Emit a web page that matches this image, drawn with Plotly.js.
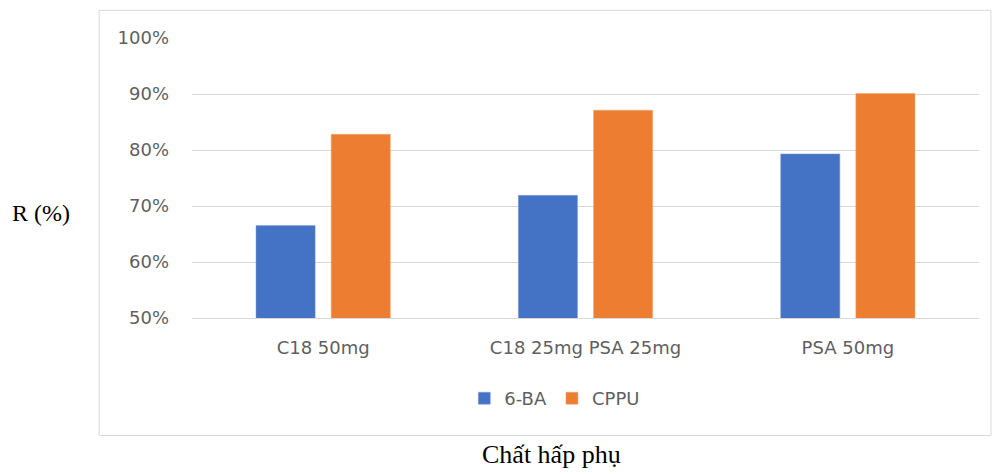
<!DOCTYPE html>
<html>
<head>
<meta charset="utf-8">
<script src="https://cdn.plot.ly/plotly-3.0.1.min.js"></script>
<style>html,body{margin:0;padding:0;background:#fff;}#chart{width:999px;height:474px;}</style>
</head>
<body>
<div id="chart"></div>
<script>
var categories = ["C18 50mg", "C18 25mg PSA 25mg", "PSA 50mg"];
var seriesNames = ["6-BA", "CPPU"];
var ba6 = [0.665, 0.719, 0.793];
var cppu = [0.828, 0.871, 0.901];
var yTickVals = [0.5, 0.6, 0.7, 0.8, 0.9, 1.0];
var yTickText = ["50%", "60%", "70%", "80%", "90%", "100%"];

var tickFont = {family: "DejaVu Sans", size: 18, color: "#5f5f5f"};

var traces = [
  {type: "bar", name: seriesNames[0], x: categories, y: ba6,
   marker: {color: "#4472c4", line: {color: "#7f9fd9", width: 0.5}}},
  {type: "bar", name: seriesNames[1], x: categories, y: cppu,
   marker: {color: "#ed7d31", line: {color: "#f3a774", width: 0.5}}}
];

var layout = {
  width: 999, height: 474,
  margin: {l: 192, r: 20, t: 38, b: 156},
  paper_bgcolor: "#ffffff", plot_bgcolor: "#ffffff",
  barmode: "group", bargap: 0.427, bargroupgap: 0.213,
  showlegend: true,
  legend: {orientation: "h", x: 0.346, xanchor: "left", y: -0.2876, yanchor: "middle",
           font: tickFont, bgcolor: "rgba(0,0,0,0)", itemclick: false},
  xaxis: {type: "category", tickfont: tickFont, ticks: "", showgrid: false,
          showline: true, linecolor: "#d9d9d9", linewidth: 1,
          ticklabelstandoff: 13, fixedrange: true},
  yaxis: {range: [0.5, 1.0], tickvals: yTickVals, ticktext: yTickText, tickfont: tickFont,
          showgrid: true, gridcolor: "#d9d9d9", gridwidth: 1, zeroline: false,
          showline: false, ticks: "", ticklabelstandoff: 22, fixedrange: true},
  shapes: [
    {type: "rect", xref: "paper", yref: "paper", x0: -0.118, x1: 1.0152, y0: -0.4195, y1: 1.0987,
     line: {color: "#d9d9d9", width: 1}, fillcolor: "rgba(0,0,0,0)", layer: "below"}
  ],
  annotations: [
    {text: "R (%)", xref: "paper", yref: "paper", x: -0.1919, y: 0.375, showarrow: false,
     xanchor: "center", yanchor: "middle",
     font: {family: "Liberation Serif", size: 24, color: "#000000"}},
    {text: "Chất hấp phụ", xref: "paper", yref: "paper", x: 0.4574, y: -0.487, showarrow: false,
     xanchor: "center", yanchor: "middle",
     font: {family: "Liberation Serif", size: 26, color: "#000000"}}
  ]
};

Plotly.newPlot("chart", traces, layout, {displayModeBar: false, staticPlot: true});
</script>
</body>
</html>
